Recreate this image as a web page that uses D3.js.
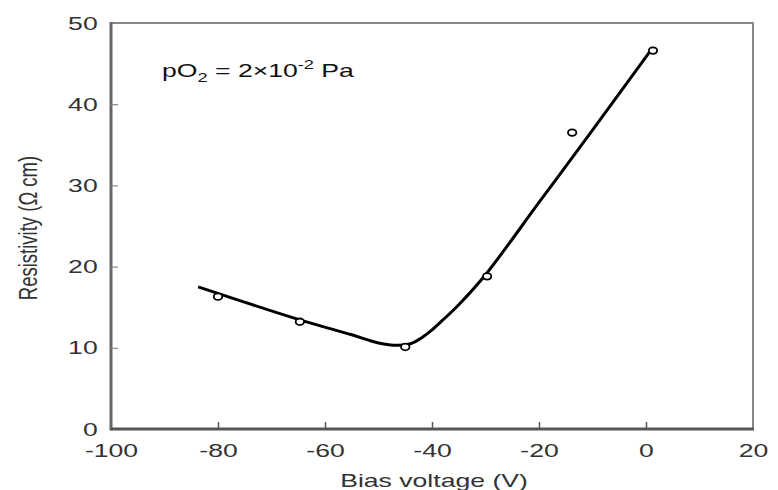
<!DOCTYPE html>
<html><head><meta charset="utf-8">
<script src="https://cdn.jsdelivr.net/npm/d3@7"></script>
<style>body{margin:0;background:#fff;} text{font-family:"Liberation Sans",Arial,sans-serif;}</style>
</head><body>
<svg id="c" width="778" height="490"></svg>
<script>
const xTicks = [-100, -80, -60, -40, -20, 0, 20];
const yTicks = [0, 10, 20, 30, 40, 50];
const pointX = [-80, -64.7, -45, -29.7, -13.8, 1.3];
const pointY = [16.3, 13.2, 10.1, 18.8, 36.5, 46.6];
const fitX = [-83.7, -65, -55, -50, -46.5, -44, -42, -40, -38, -35, -30, -20, -10, 1.3];
const fitY = [17.5, 13.5, 11.6, 10.6, 10.3, 10.5, 11.2, 12.2, 13.4, 15.3, 19.0, 27.9, 36.8, 47.0];

const SX = 1.4; // horizontal stretch of the lettering
const svg = d3.select("#c");
const L = 111, R = 753, T = 23, B = 429;
const x = d3.scaleLinear().domain([-100, 20]).range([L, R]);
const y = d3.scaleLinear().domain([0, 50]).range([B, T]);

// frame
svg.append("rect").attr("x", L).attr("y", T).attr("width", R - L).attr("height", B - T)
  .attr("fill", "none").attr("stroke", "#888").attr("stroke-width", 2);
svg.append("line").attr("x1", L).attr("x2", L).attr("y1", T - 1).attr("y2", B + 1.5).attr("stroke", "#666").attr("stroke-width", 3);
svg.append("line").attr("x1", L).attr("x2", R + 1).attr("y1", B).attr("y2", B).attr("stroke", "#555").attr("stroke-width", 3);

// axes
const xAxis = d3.axisBottom(x).tickValues(xTicks).tickSize(-7).tickPadding(15).tickFormat(d => String(d));
const gx = svg.append("g").attr("transform", `translate(0,${B})`).call(xAxis);
gx.select(".domain").remove();
gx.selectAll(".tick line").attr("stroke", "#555").attr("stroke-width", 1.5)
  .filter(d => d === -100 || d === 20).remove();
gx.selectAll("text").attr("font-size", 19).attr("fill", "#333").attr("transform", `scale(${SX},1)`);

const yAxis = d3.axisLeft(y).tickValues(yTicks).tickSize(-7).tickPadding(9.5).tickFormat(d => String(d));
const gy = svg.append("g").attr("transform", `translate(${L},0)`).call(yAxis);
gy.select(".domain").remove();
gy.selectAll(".tick line").attr("stroke", "#888").attr("stroke-width", 1.2)
  .filter(d => d === 0 || d === 50).remove();
gy.selectAll("text").attr("font-size", 19).attr("fill", "#333").attr("transform", `scale(${SX},1)`);

// fit line
const fit = fitX.map((v, i) => [v, fitY[i]]);
svg.append("path").datum(fit)
  .attr("d", d3.line().x(d => x(d[0])).y(d => y(d[1])).curve(d3.curveCatmullRom.alpha(0.5)))
  .attr("fill", "none").attr("stroke", "#000").attr("stroke-width", 3);

// points
svg.selectAll("ellipse.pt").data(pointX.map((v, i) => [v, pointY[i]])).enter()
  .append("ellipse").attr("class", "pt")
  .attr("cx", d => x(d[0])).attr("cy", d => y(d[1]))
  .attr("rx", 4.2).attr("ry", 3.3)
  .attr("fill", "#fff").attr("stroke", "#000").attr("stroke-width", 1.8);

// annotation
const ann = svg.append("text").attr("transform", `translate(162,77) scale(${SX},1)`)
  .attr("font-size", 19).attr("fill", "#111");
ann.append("tspan").text("pO");
ann.append("tspan").attr("font-size", 13).attr("dy", 5).text("2");
ann.append("tspan").attr("dy", -5).text(" = 2×10");
ann.append("tspan").attr("font-size", 13).attr("dy", -8).text("-2");
ann.append("tspan").attr("dy", 8).text(" Pa");

// axis labels
svg.append("text").attr("transform", `translate(434,487) scale(${SX},1)`).attr("text-anchor", "middle")
  .attr("font-size", 19).attr("fill", "#333").text("Bias voltage (V)");
svg.append("text").attr("transform", `translate(37,228) scale(${SX},1) rotate(-90)`).attr("text-anchor", "middle")
  .attr("font-size", 18.5).attr("fill", "#333").text("Resistivity (Ω cm)");
</script>
</body></html>
